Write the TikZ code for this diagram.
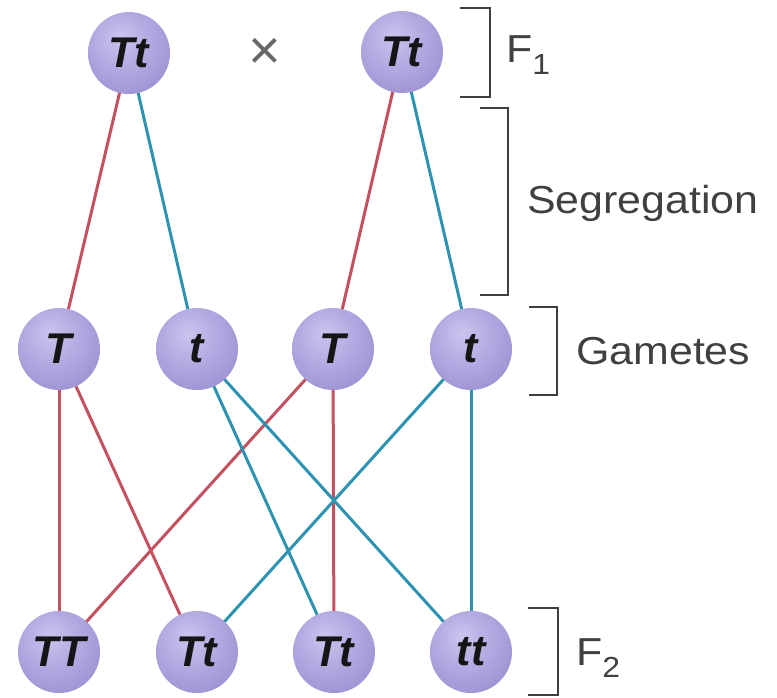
\documentclass[tikz,border=0pt]{standalone}
\usepackage{fontspec}
\setmainfont{Liberation Sans}
\newfontfamily\labelfont[FakeStretch=1.1]{Liberation Sans}
\usetikzlibrary{backgrounds}

\definecolor{allelered}{HTML}{C4515F}
\definecolor{alleleblue}{HTML}{2E93B0}
\definecolor{bracketgray}{HTML}{404040}
\definecolor{crossgray}{HTML}{686868}
\definecolor{ballink}{HTML}{151515}
\definecolor{ballA}{HTML}{C9C5EE}
\definecolor{ballB}{HTML}{B3ACE2}
\definecolor{ballC}{HTML}{9A8ED0}
\definecolor{ballD}{HTML}{8677BF}
\definecolor{ballE}{HTML}{8070B8}

% soft lavender sphere, highlight slightly up and to the left
\pgfdeclareradialshading{lavenderball}{\pgfpoint{-6bp}{10bp}}{%
  color(0bp)=(ballA);
  color(16bp)=(ballB);
  color(36bp)=(ballC);
  color(52bp)=(ballD);
  color(72bp)=(ballE)}

\tikzset{
  ball/.style={circle, minimum size=82pt, inner sep=0pt, shading=lavenderball,
    font=\fontsize{43}{43}\selectfont\bfseries\itshape, text=ballink},
  redline/.style={draw=allelered, line width=3pt},
  blueline/.style={draw=alleleblue, line width=3pt},
  bracket/.style={draw=bracketgray, line width=2.5pt},
  tag/.style={anchor=west, inner sep=0pt, text=bracketgray,
    font=\labelfont\fontsize{39}{39}\selectfont},
}

\begin{document}
\begin{tikzpicture}[x=1pt, y=-1pt]
  \useasboundingbox (0,0) rectangle (777,697);

  % F1 parents
  \node[ball] (ta) at (129,53) {Tt};
  \node[ball] (tb) at (402,52) {Tt};
  \node[text=crossgray, font=\fontsize{56}{56}\selectfont] (cross) at (265,54) {×};

  % gametes
  \node[ball] (ga) at (59,349) {T};
  \node[ball] (gb) at (197,349) {t};
  \node[ball] (gc) at (333,349) {T};
  \node[ball] (gd) at (471,349) {t};

  % F2 offspring
  \node[ball] (fa) at (59,652) {TT};
  \node[ball] (fb) at (197,652) {Tt};
  \node[ball] (fc) at (334,652) {Tt};
  \node[ball] (fd) at (471,652) {tt};

  \begin{scope}[on background layer]
    % segregation of alleles
    \draw[redline]  (ta.center) -- (ga.center);
    \draw[blueline] (ta.center) -- (gb.center);
    \draw[redline]  (tb.center) -- (gc.center);
    \draw[blueline] (tb.center) -- (gd.center);
    % fertilization
    \draw[redline]  (ga.center) -- (fa.center);
    \draw[redline]  (ga.center) -- (fb.center);
    \draw[redline]  (gc.center) -- (fa.center);
    \draw[redline]  (gc.center) -- (fc.center);
    \draw[blueline] (gb.center) -- (fc.center);
    \draw[blueline] (gb.center) -- (fd.center);
    \draw[blueline] (gd.center) -- (fb.center);
    \draw[blueline] (gd.center) -- (fd.center);
  \end{scope}

  % generation brackets and their labels
  \coordinate (f1a) at (460,8);   \coordinate (f1b) at (490,8);
  \coordinate (f1c) at (490,97);  \coordinate (f1d) at (460,97);
  \draw[bracket] (f1a) -- (f1b) -- (f1c) -- (f1d);
  \node[tag] (f1) at (506,55) {F\raisebox{-0.32em}{\fontsize{29}{29}\selectfont 1}};

  \coordinate (sga) at (480,108); \coordinate (sgb) at (508,108);
  \coordinate (sgc) at (508,295); \coordinate (sgd) at (480,295);
  \draw[bracket] (sga) -- (sgb) -- (sgc) -- (sgd);
  \node[tag] (seg) at (527,203) {Segregation};

  \coordinate (gma) at (529,307); \coordinate (gmb) at (557,307);
  \coordinate (gmc) at (557,395); \coordinate (gmd) at (529,395);
  \draw[bracket] (gma) -- (gmb) -- (gmc) -- (gmd);
  \node[tag] (gam) at (576,351) {Gametes};

  \coordinate (f2a) at (528,608); \coordinate (f2b) at (558,608);
  \coordinate (f2c) at (558,695); \coordinate (f2d) at (528,695);
  \draw[bracket] (f2a) -- (f2b) -- (f2c) -- (f2d);
  \node[tag] (f2) at (576,658) {F\raisebox{-0.32em}{\fontsize{29}{29}\selectfont 2}};
\end{tikzpicture}
\end{document}
